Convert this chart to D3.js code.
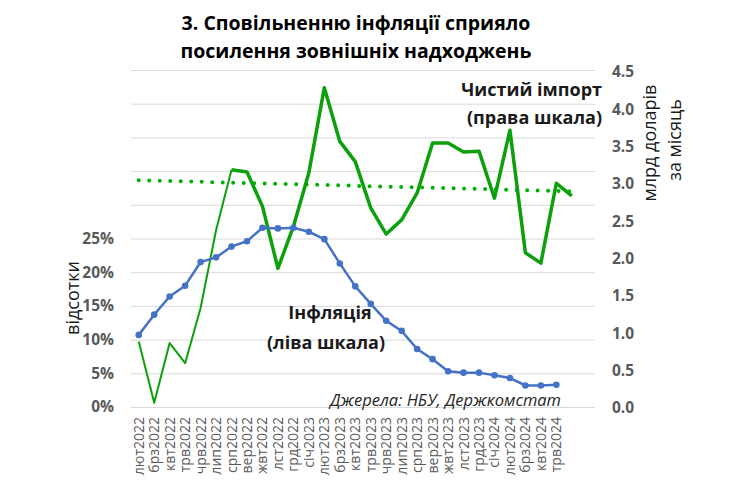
<!DOCTYPE html>
<html>
<head>
<meta charset="utf-8">
<script src="https://cdn.jsdelivr.net/npm/d3@7"></script>
<style>
  body { margin: 0; background: #fff; }
  svg { font-family: "Open Sans", "Noto Sans", sans-serif; }
  .grid line { stroke: #d9d9d9; stroke-width: 1; }
  .grid path { display: none; }
  .tick-lbl { fill: #595959; font-weight: bold; font-size: 15.5px; }
  .cat-lbl { fill: #595959; font-size: 14px; }
  .note { fill: #1a1a1a; font-weight: bold; font-size: 18px; }
  .ax-title { fill: #1a1a1a; font-size: 18px; }
</style>
</head>
<body>
<div id="chart"></div>
<script>
// month labels on the x axis (two more empty slots follow in the plot area)
var months = ['лют2022', 'брз2022', 'квт2022', 'трв2022', 'чрв2022', 'лип2022',
  'срп2022', 'вер2022', 'жвт2022', 'лст2022', 'грд2022', 'січ2023',
  'лют2023', 'брз2023', 'квт2023', 'трв2023', 'чрв2023', 'лип2023',
  'срп2023', 'вер2023', 'жвт2023', 'лст2023', 'грд2023', 'січ2024',
  'лют2024', 'брз2024', 'квт2024', 'трв2024'];
var slots = 30;

// inflation, % y/y (left scale)
var inflation = [10.7, 13.7, 16.4, 18.0, 21.5, 22.2, 23.8, 24.6, 26.6, 26.5, 26.6, 26.0,
  24.9, 21.3, 17.9, 15.3, 12.8, 11.3, 8.6, 7.1, 5.3, 5.1, 5.1, 4.7,
  4.3, 3.2, 3.2, 3.3];

// net imports, bn USD per month (right scale), Feb 2022 - Jun 2024
var netImport = [0.89, 0.07, 0.87, 0.60, 1.34, 2.38, 3.19, 3.16, 2.70, 1.87, 2.43, 3.15,
  4.29, 3.57, 3.30, 2.68, 2.33, 2.52, 2.88, 3.55, 3.55, 3.43, 3.44, 2.81,
  3.72, 2.08, 1.94, 3.01, 2.84];
var thinUntil = 6; // first months drawn with a thin line

// dotted trend of net imports: value at first and last month
var trendEnds = [3.05, 2.90];

var leftTicks = [0, 5, 10, 15, 20, 25];
var gridTicks = [0, 5, 10, 15, 20, 25, 30, 35, 40, 45, 50];
var rightTicks = [0, 0.5, 1, 1.5, 2, 2.5, 3, 3.5, 4, 4.5];

var width = 750, height = 490;
var plot = {left: 131, right: 595, top: 70, bottom: 407};

var svg = d3.select('#chart').append('svg')
  .attr('width', width)
  .attr('height', height);

var x = d3.scaleBand()
  .domain(d3.range(slots))
  .range([plot.left, plot.right]);
function cx(i) { return x(i) + x.bandwidth() / 2; }

var yL = d3.scaleLinear().domain([0, 50]).range([plot.bottom, plot.top]);
var yR = d3.scaleLinear().domain([0, 4.5]).range([plot.bottom + 1, plot.top + 2]);

// gridlines
svg.append('g')
  .attr('class', 'grid')
  .attr('transform', 'translate(' + plot.left + ',0)')
  .call(d3.axisLeft(yL).tickValues(gridTicks).tickSize(-(plot.right - plot.left)).tickFormat(''));

// left tick labels
svg.append('g').selectAll('text')
  .data(leftTicks)
  .enter().append('text')
  .attr('class', 'tick-lbl')
  .attr('x', 114)
  .attr('y', function (d) { return yL(d); })
  .attr('dy', '0.35em')
  .attr('text-anchor', 'end')
  .text(function (d) { return d + '%'; });

// right tick labels
svg.append('g').selectAll('text')
  .data(rightTicks)
  .enter().append('text')
  .attr('class', 'tick-lbl')
  .attr('x', 612)
  .attr('y', function (d) { return yR(d); })
  .attr('dy', '0.35em')
  .text(function (d) { return d3.format('.1f')(d); });

// x labels
svg.append('g').selectAll('text')
  .data(months)
  .enter().append('text')
  .attr('class', 'cat-lbl')
  .attr('text-anchor', 'end')
  .attr('transform', function (d, i) {
    return 'translate(' + (cx(i) + 5) + ',417) rotate(-90)';
  })
  .text(function (d) { return d; });

// axis titles
svg.append('text')
  .attr('class', 'ax-title')
  .attr('transform', 'translate(79,298) rotate(-90)')
  .attr('text-anchor', 'middle')
  .text('відсотки');

svg.append('text')
  .attr('class', 'ax-title')
  .attr('transform', 'translate(656,143) rotate(-90)')
  .attr('text-anchor', 'middle')
  .text('млрд доларів');

svg.append('text')
  .attr('class', 'ax-title')
  .attr('transform', 'translate(681,140) rotate(-90)')
  .attr('text-anchor', 'middle')
  .text('за місяць');

// trend line
svg.append('line')
  .attr('x1', cx(0))
  .attr('x2', cx(netImport.length - 1) + 6)
  .attr('y1', yR(trendEnds[0]))
  .attr('y2', yR(trendEnds[1]))
  .attr('stroke', '#00b000')
  .attr('stroke-width', 4)
  .attr('stroke-linecap', 'round')
  .attr('stroke-dasharray', '0,10.5');

// net imports line: thin part and thick part
var lineR = d3.line()
  .x(function (d) { return cx(d.i); })
  .y(function (d) { return yR(d.v); });
var imp = netImport.map(function (v, i) { return {i: i, v: v}; });

svg.append('path')
  .datum(imp.slice(0, thinUntil + 1))
  .attr('d', lineR)
  .attr('fill', 'none')
  .attr('stroke', '#0ca00c')
  .attr('stroke-width', 2)
  .attr('stroke-linejoin', 'round');

svg.append('path')
  .datum(imp.slice(thinUntil))
  .attr('d', lineR)
  .attr('fill', 'none')
  .attr('stroke', '#0ca00c')
  .attr('stroke-width', 3.5)
  .attr('stroke-linejoin', 'round');

// inflation line with markers
var inf = inflation.map(function (v, i) { return {i: i, v: v}; });
var lineL = d3.line()
  .x(function (d) { return cx(d.i); })
  .y(function (d) { return yL(d.v); });

svg.append('path')
  .datum(inf)
  .attr('d', lineL)
  .attr('fill', 'none')
  .attr('stroke', '#4472c4')
  .attr('stroke-width', 2.5);

svg.append('g').selectAll('circle')
  .data(inf)
  .enter().append('circle')
  .attr('cx', function (d) { return cx(d.i); })
  .attr('cy', function (d) { return yL(d.v); })
  .attr('r', 3.3)
  .attr('fill', '#4472c4');

// notes
svg.append('text').attr('class', 'note')
  .attr('x', 330).attr('y', 319).attr('text-anchor', 'middle')
  .text('Інфляція');
svg.append('text').attr('class', 'note')
  .attr('x', 326).attr('y', 349).attr('text-anchor', 'middle')
  .text('(ліва шкала)');
svg.append('text').attr('class', 'note')
  .attr('x', 602).attr('y', 96).attr('text-anchor', 'end')
  .text('Чистий імпорт');
svg.append('text').attr('class', 'note')
  .attr('x', 602).attr('y', 124).attr('text-anchor', 'end')
  .text('(права шкала)');

svg.append('text')
  .attr('x', 561).attr('y', 406).attr('text-anchor', 'end')
  .attr('fill', '#262626')
  .style('font-size', '16.5px')
  .style('font-style', 'italic')
  .text('Джерела: НБУ, Держкомстат');

// title
var title = svg.append('text')
  .attr('text-anchor', 'middle')
  .attr('fill', '#000')
  .style('font-size', '19.5px')
  .style('font-weight', 'bold');
title.append('tspan').attr('x', 356).attr('y', 30).text('3. Сповільненню інфляції сприяло');
title.append('tspan').attr('x', 356).attr('y', 58).text('посилення зовнішніх надходжень');
</script>
</body>
</html>
